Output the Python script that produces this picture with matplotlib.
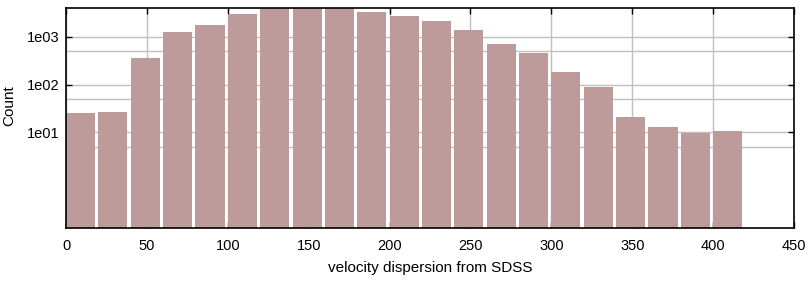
import matplotlib
matplotlib.use("Agg")
import matplotlib.pyplot as plt
from matplotlib.ticker import FixedLocator, NullFormatter

plt.rcParams['font.family'] = ['Liberation Sans', 'DejaVu Sans']

# histogram of velocity dispersion (bin edges 0..420, step 20)
bin_left = [0, 20, 40, 60, 80, 100, 120, 140, 160, 180, 200,
            220, 240, 260, 280, 300, 320, 340, 360, 380, 400]
counts = [25, 27, 365, 1270, 1780, 3000, 4300, 4400, 4200, 3300, 2740,
          2150, 1400, 714, 464, 186, 87, 21.5, 12.7, 9.5, 10.5]
bin_width = 20
bar_color = '#bd9b9b'

fig = plt.figure(figsize=(8.08, 2.81), dpi=100)
ax = fig.add_axes([0.0817, 0.1886, 0.9010, 0.7829])

ax.bar(bin_left, counts, width=bin_width * 0.9, align='edge',
       color=bar_color, edgecolor='none', zorder=2)

ax.set_yscale('log')
ax.set_ylim(0.1, 4000)
ax.set_xlim(0, 450)
ax.set_xticks(range(0, 451, 50))
ax.yaxis.set_major_locator(FixedLocator([10, 100, 1000]))
ax.yaxis.set_minor_locator(FixedLocator([5, 50, 500]))
ax.yaxis.set_minor_formatter(NullFormatter())
ax.set_yticklabels(['1e01', '1e02', '1e03'])

ax.grid(True, which='major', color='#bfbfbf', linewidth=1, zorder=0)
ax.grid(True, which='minor', axis='y', color='#bfbfbf', linewidth=1, zorder=0)
ax.set_axisbelow(True)

ax.tick_params(which='major', direction='in', top=True, right=True,
               length=4, width=1, labelsize=10.5, colors='black')
ax.tick_params(axis='x', pad=8)
ax.tick_params(axis='y', pad=5)
ax.tick_params(which='minor', length=0)
for s in ax.spines.values():
    s.set_linewidth(1.2)
    s.set_zorder(3)

ax.set_xlabel('velocity dispersion from SDSS', fontsize=11)
ax.set_ylabel('Count', fontsize=11)
ax.xaxis.set_label_coords(0.5, -0.15)
ax.yaxis.set_label_coords(-0.068, 0.555)

fig.savefig('out.png', dpi=100)
